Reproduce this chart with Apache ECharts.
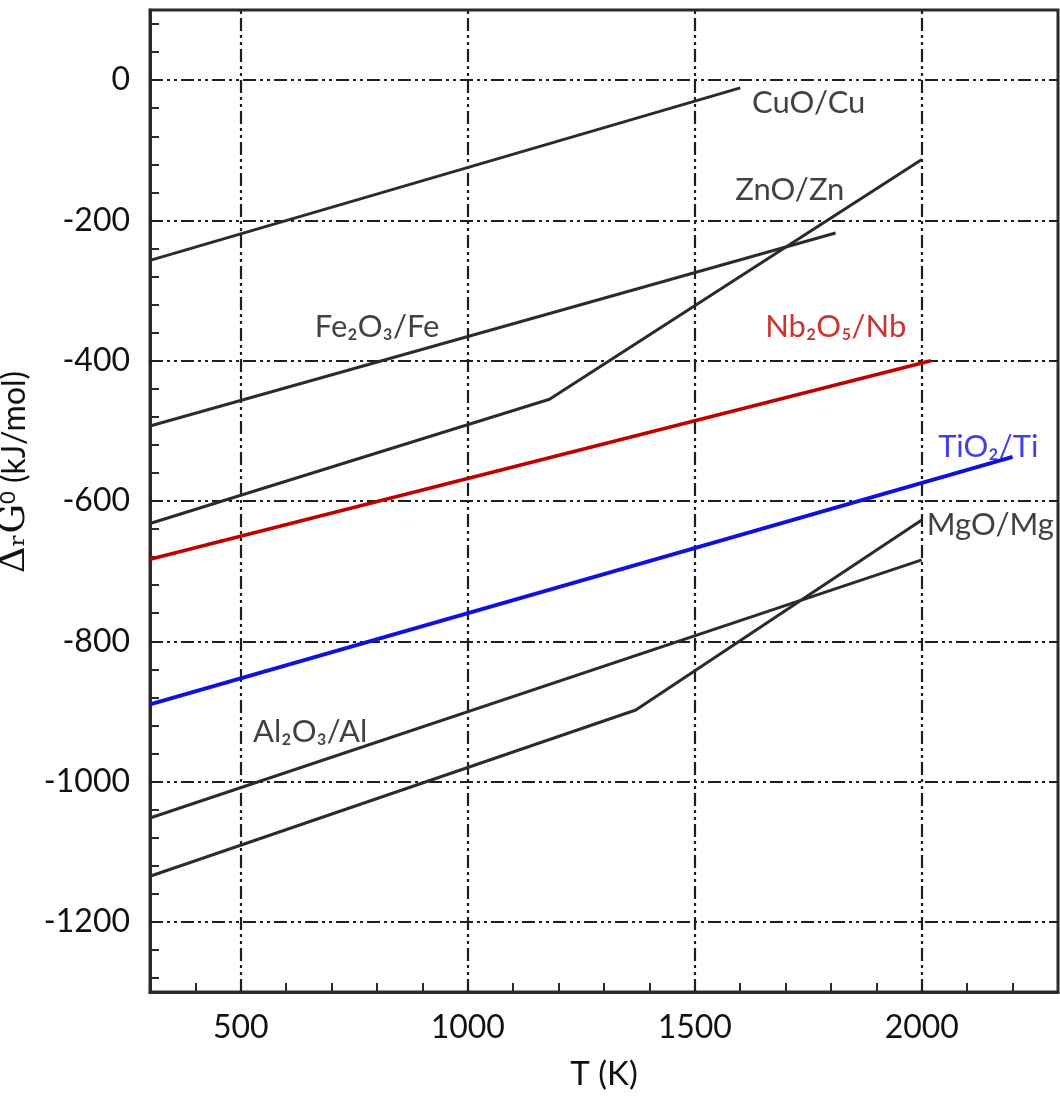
<!DOCTYPE html>
<html><head><meta charset="utf-8">
<script src="https://cdn.jsdelivr.net/npm/echarts@6/dist/echarts.min.js"></script>
<style>html,body{margin:0;padding:0;background:#fff}#c{width:1060px;height:1099px}</style>
</head><body><div id="c"></div>
<script>
// ---- data ----
const xTicks = [400,500,600,700,800,900,1000,1100,1200,1300,1400,1500,1600,1700,1800,1900,2000,2100,2200];
const xLabels = [500,1000,1500,2000];
const yTicks = [80,40,0,-40,-80,-120,-160,-200,-240,-280,-320,-360,-400,-440,-480,-520,-560,-600,-640,-680,-720,-760,-800,-840,-880,-920,-960,-1000,-1040,-1080,-1120,-1160,-1200,-1240,-1280];
const yLabels = [0,-200,-400,-600,-800,-1000,-1200];
const xGrid = [500,1000,1500,2000];
const yGrid = [0,-200,-400,-600,-800,-1000,-1200];

const cuO   = [[300,-257],[1600,-11]];
const fe2O3 = [[300,-493],[1810,-218]];
const znO   = [[300,-632],[1180,-455],[2000,-113]];
const nb2O5 = [[300,-683],[2020,-400]];
const tiO2  = [[300,-890],[2200,-537]];
const al2O3 = [[300,-1052],[2000,-684]];
const mgO   = [[300,-1135],[1370,-898],[2000,-627]];

const labelNames = ['CuO/Cu','ZnO/Zn','Fe₂O₃/Fe','Nb₂O₅/Nb','TiO₂/Ti','MgO/Mg','Al₂O₃/Al'];
const labelAt = [[1626,-33],[1589,-157],[663,-352],[1655,-352],[2036,-523],[2011,-634],[527,-929]];
const labelColors = ['#111','#111','#111','#c00000','#1010e0','#111','#111'];

// ---- chart ----
const FONT = 'Lato, "DejaVu Sans"';
const DARK = '#2a2a2a';
const chart = echarts.init(document.getElementById('c'), null, {renderer:'canvas'});

function lineSeries(name, data, color, width){
  return {name, type:'line', data, showSymbol:false, symbol:'none', z:3,
    lineStyle:{color, width}, silent:true, animation:false};
}

const gridMarks = xGrid.map(v=>({xAxis:v})).concat(yGrid.map(v=>({yAxis:v})));
const plain = v => String(v);

chart.setOption({
  animation:false,
  backgroundColor:'#fff',
  grid:{left:150, right:2, top:10, bottom:107, show:true, borderColor:DARK, borderWidth:3,
        containLabel:false, outerBoundsMode:'none'},
  xAxis:{
    type:'value', min:300, max:2300,
    name:'T (K)', nameLocation:'middle', nameGap:66,
    nameTextStyle:{fontFamily:FONT, fontSize:33, color:'#111'},
    axisLine:{show:true, onZero:false, lineStyle:{color:DARK, width:3}},
    axisTick:{show:true, inside:true, length:9, customValues:xTicks, lineStyle:{color:DARK, width:2}},
    axisLabel:{show:true, customValues:xLabels, formatter:plain, margin:20, fontFamily:FONT, fontSize:32, color:'#111'},
    splitLine:{show:false}
  },
  yAxis:{
    type:'value', min:-1300, max:100,
    name:'{d|Δᵣ}{d|G}{o|0} (kJ/mol)', nameLocation:'middle', nameGap:92,
    nameTextStyle:{fontFamily:FONT, fontSize:32, color:'#111', padding:[0,0,0,58], lineHeight:36,
      rich:{
        d:{fontFamily:'"DejaVu Serif", "Liberation Serif"', fontSize:37, color:'#111', lineHeight:36},
        o:{fontFamily:FONT, fontSize:22, color:'#111', verticalAlign:'top', lineHeight:18}
      }},
    axisLine:{show:true, onZero:false, lineStyle:{color:DARK, width:3}},
    axisTick:{show:true, inside:true, length:9, customValues:yTicks, lineStyle:{color:DARK, width:2}},
    axisLabel:{show:true, customValues:yLabels, formatter:plain, margin:20, fontFamily:FONT, fontSize:32, color:'#111'},
    splitLine:{show:false}
  },
  series:[
    {type:'line', data:[], z:1, silent:true,
     markLine:{silent:true, symbol:['none','none'], z:1, animation:false,
       label:{show:false},
       lineStyle:{color:'#1e1e1e', width:2.2, type:[13,4,3,4,3,4]},
       emphasis:{disabled:true},
       data:gridMarks}},
    lineSeries('CuO/Cu', cuO, '#2b2b2b', 3),
    lineSeries('Fe2O3/Fe', fe2O3, '#2b2b2b', 3),
    lineSeries('ZnO/Zn', znO, '#2b2b2b', 3),
    lineSeries('Nb2O5/Nb', nb2O5, '#c00000', 3.5),
    lineSeries('TiO2/Ti', tiO2, '#1010e0', 4),
    lineSeries('Al2O3/Al', al2O3, '#2b2b2b', 3),
    lineSeries('MgO/Mg', mgO, '#2b2b2b', 3),
    {type:'scatter', symbolSize:0, z:4, silent:true,
     data: labelNames.map((n,i)=>({name:n, value:labelAt[i], label:{color:labelColors[i]}})),
     label:{show:true, position:'right', distance:0, formatter:p=>p.name,
       fontFamily:FONT, fontSize:31}}
  ]
});
</script>
</body></html>
